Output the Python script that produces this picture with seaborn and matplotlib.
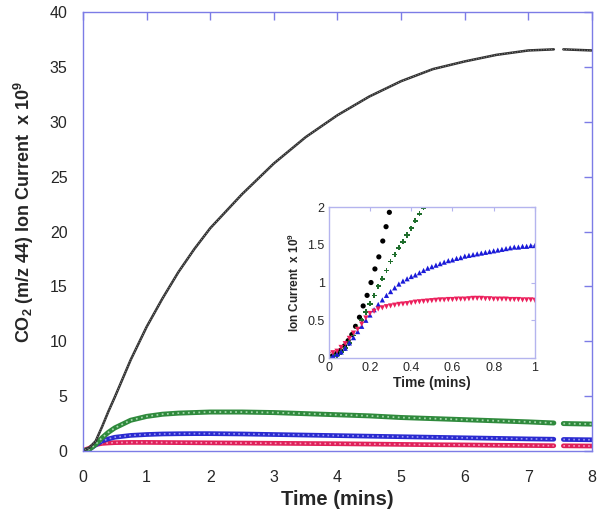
import numpy as np
import pandas as pd
import matplotlib
matplotlib.use('Agg')
import matplotlib.pyplot as plt
import seaborn as sns

# main plot: CO2 ion current vs time
t_main = [0, 0.1, 0.2, 0.3, 0.4, 0.5, 0.75, 1, 1.25, 1.5, 1.75, 2, 2.5, 3, 3.5,
          4, 4.5, 5, 5.5, 6, 6.5, 7, 7.4, 7.55, 8]
seg_main = [0] * 23 + [1] * 2   # data gap between 7.4 and 7.55 min
black_main = [0, 0.3, 0.9, 2.2, 3.6, 4.9, 8.3, 11.3, 13.9, 16.3, 18.4, 20.3, 23.4,
              26.2, 28.6, 30.6, 32.3, 33.7, 34.8, 35.5, 36.1, 36.5, 36.6, 36.6, 36.5]
green_main = [0, 0.15, 0.6, 1.2, 1.7, 2.1, 2.8, 3.15, 3.35, 3.45, 3.5, 3.55, 3.55,
              3.5, 3.4, 3.3, 3.2, 3.05, 2.95, 2.85, 2.75, 2.65, 2.55, 2.5, 2.45]
blue_main = [0, 0.15, 0.55, 0.9, 1.1, 1.25, 1.42, 1.5, 1.55, 1.57, 1.58, 1.58, 1.55,
             1.5, 1.45, 1.4, 1.35, 1.3, 1.25, 1.2, 1.15, 1.1, 1.07, 1.05, 1.02]
red_main = [0.05, 0.25, 0.58, 0.69, 0.73, 0.76, 0.78, 0.78, 0.77, 0.76, 0.75, 0.74,
            0.72, 0.7, 0.68, 0.66, 0.63, 0.6, 0.57, 0.55, 0.52, 0.5, 0.48, 0.47, 0.45]

# inset: first minute
t_black_in = [0.002, 0.02, 0.039, 0.057, 0.076, 0.094, 0.112, 0.13, 0.149, 0.167,
              0.186, 0.205, 0.224, 0.243, 0.262, 0.278, 0.294]
black_in = [0.02, 0.03, 0.06, 0.10, 0.16, 0.23, 0.31, 0.42, 0.54, 0.69,
            0.83, 1.0, 1.18, 1.34, 1.55, 1.74, 1.93]
t_green_in = [0, 0.02, 0.04, 0.06, 0.08, 0.10, 0.12, 0.14, 0.16, 0.18, 0.20, 0.22,
              0.24, 0.26, 0.28, 0.30, 0.32, 0.34, 0.36, 0.38, 0.40, 0.42, 0.44, 0.46]
green_in = [0.01, 0.02, 0.04, 0.08, 0.13, 0.20, 0.30, 0.40, 0.50, 0.61, 0.72, 0.83,
            0.95, 1.05, 1.16, 1.28, 1.37, 1.46, 1.54, 1.63, 1.72, 1.82, 1.91, 1.99]
t_in = [round(0.02 * i, 2) for i in range(51)]
blue_in = [0.01, 0.03, 0.05, 0.08, 0.13, 0.20, 0.27, 0.35, 0.42, 0.50, 0.57, 0.64,
           0.71, 0.77, 0.83, 0.88, 0.93, 0.98, 1.02, 1.05, 1.08, 1.10, 1.13, 1.16,
           1.19, 1.21, 1.23, 1.25, 1.27, 1.29, 1.30, 1.32, 1.33, 1.35, 1.36, 1.37,
           1.38, 1.39, 1.40, 1.41, 1.42, 1.43, 1.44, 1.45, 1.46, 1.47, 1.47, 1.48,
           1.48, 1.49, 1.49]
red_in = [0.05, 0.07, 0.09, 0.14, 0.19, 0.26, 0.33, 0.38, 0.45, 0.53, 0.59, 0.62,
          0.65, 0.665, 0.68, 0.69, 0.70, 0.71, 0.715, 0.72, 0.73, 0.74, 0.745, 0.75,
          0.755, 0.76, 0.765, 0.77, 0.77, 0.775, 0.775, 0.78, 0.78, 0.78, 0.785, 0.79,
          0.79, 0.79, 0.785, 0.785, 0.78, 0.78, 0.78, 0.78, 0.775, 0.775, 0.775, 0.77,
          0.77, 0.77, 0.765]

# dark colour, light speckle colour, width
styles = {
    'red': ('#e0205a', '#f4a0bc', 3.4),
    'blue': ('#2a2ad0', '#9a9af0', 3.4),
    'green': ('#2f8a3c', '#a6d8ae', 3.6),
    'black': ('#303030', '#a0a0a0', 1.8),
}
axis_col = '#7c7ce6'

sns.set_style('white')
plt.rcParams['font.family'] = ['Liberation Sans', 'DejaVu Sans']
plt.rcParams['mathtext.fontset'] = 'custom'
plt.rcParams['mathtext.rm'] = 'Liberation Sans:bold'
plt.rcParams['mathtext.bf'] = 'Liberation Sans:bold'

# long table for the main plot
frames = []
for name, vals in [('black', black_main), ('green', green_main),
                   ('blue', blue_main), ('red', red_main)]:
    frames.append(pd.DataFrame({'t': t_main, 'v': vals, 'series': name, 'seg': seg_main}))
df = pd.concat(frames, ignore_index=True)

fig = plt.figure(figsize=(6.01, 5.17), dpi=100)
ax = fig.add_axes([0.138, 0.1277, 0.847, 0.849])

for name in ['red', 'blue', 'green', 'black']:
    dark, light, lw = styles[name]
    sub = df[df.series == name]
    sns.lineplot(data=sub, x='t', y='v', units='seg', estimator=None, color=dark,
                 linewidth=lw, legend=False, ax=ax)
    # speckled texture of the dense markers
    sns.lineplot(data=sub, x='t', y='v', units='seg', estimator=None, color=light,
                 linewidth=lw * 0.35, linestyle=(0, (1, 2)), legend=False, ax=ax)

ax.set_xlim(0, 8)
ax.set_ylim(0, 40)
ax.set_xticks(range(0, 9))
ax.set_yticks(range(0, 41, 5))
ax.tick_params(direction='in', length=6, width=1, color=axis_col, labelsize=11.5,
               top=True, right=True)
ax.tick_params(axis='x', pad=14)
ax.tick_params(axis='y', pad=11)
for sp in ax.spines.values():
    sp.set_color(axis_col)
    sp.set_linewidth(1)
ax.set_xlabel('Time (mins)', fontsize=14.5, fontweight='bold', labelpad=3)
ax.set_ylabel(r'CO$_{\mathbf{2}}$ (m/z 44) Ion Current  x 10$^{\mathbf{9}}$',
              fontsize=13, fontweight='bold')
ax.yaxis.set_label_coords(-0.092, 0.544)

# inset
ins = fig.add_axes([0.547, 0.3075, 0.343, 0.292])
ins.set_facecolor('white')
sns.scatterplot(x=t_black_in, y=black_in, color='black', marker='o', s=14,
                edgecolor='none', ax=ins)
sns.scatterplot(x=t_green_in, y=green_in, color='#1f6e2c', marker='P', s=14,
                edgecolor='none', ax=ins)
sns.scatterplot(x=t_in, y=blue_in, color='#1a1ad8', marker='^', s=14,
                edgecolor='none', ax=ins)
sns.scatterplot(x=t_in, y=red_in, color='#ec1f5c', marker='v', s=14,
                edgecolor='none', ax=ins)
ins.set_xlim(0, 1)
ins.set_ylim(0, 2)
ins.set_xticks([0, 0.2, 0.4, 0.6, 0.8, 1])
ins.set_xticklabels(['0', '0.2', '0.4', '0.6', '0.8', '1'])
ins.set_yticks([0, 0.5, 1, 1.5, 2])
ins.set_yticklabels(['0', '0.5', '1', '1.5', '2'])
ins.tick_params(direction='in', length=3, width=0.8, color='#b4b4ee', labelsize=9,
                top=True, right=True, pad=3)
for sp in ins.spines.values():
    sp.set_color('#b4b4ee')
    sp.set_linewidth(1)
ins.set_xlabel('Time (mins)', fontsize=10, fontweight='bold', labelpad=1)
ins.set_ylabel(r'Ion Current  x 10$^{\mathbf{9}}$', fontsize=8.5, fontweight='bold',
               labelpad=4)

fig.savefig('out.png', dpi=100)
